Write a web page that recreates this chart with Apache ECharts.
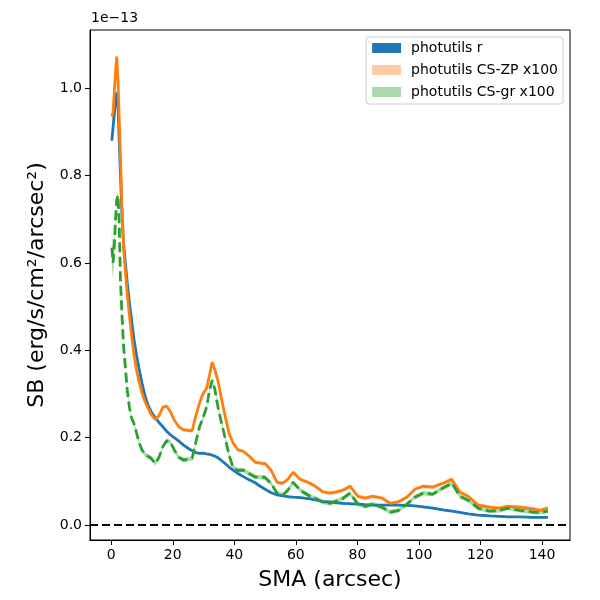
<!DOCTYPE html>
<html>
<head>
<meta charset="utf-8">
<script src="https://cdn.jsdelivr.net/npm/echarts@6/dist/echarts.min.js"></script>
<style>
html, body {margin:0; padding:0; background:#fff;}
#main {width:600px; height:600px;}
</style>
</head>
<body>
<div id="main"></div>
<script>
// SMA of the isophotes (arcsec)
var sma = [
	0.2, 0.6, 1.0, 1.4, 1.8, 2.2, 2.6, 3.0, 3.5, 4.0,
	4.6, 5.2, 5.9, 6.6, 7.4, 8.2, 9.0, 10.0, 11.0, 12.0,
	13.0, 14.3, 15.5, 16.8, 18.0, 19.2, 20.5, 22.0, 23.5, 25.0,
	26.3, 27.5, 28.7, 29.8, 31.0, 32.0, 32.8, 33.7, 34.7, 35.8,
	37.0, 38.3, 39.6, 41.2, 42.9, 44.8, 46.8, 48.4, 50.0, 52.0,
	53.9, 55.8, 57.4, 59.1, 61.4, 64.6, 66.7, 68.8, 71.1, 73.2,
	75.3, 77.6, 80.2, 82.5, 85.0, 88.0, 90.6, 93.2, 96.1, 98.7,
	101.3, 104.5, 107.8, 110.7, 113.3, 116.0, 119.2, 123.0, 126.3, 128.9,
	132.8, 137.0, 139.3, 141.9
];
// surface brightness, units of 1e-13
var sbR = [
	0.88, 0.91, 0.94, 0.97, 0.99, 0.96, 0.88, 0.80, 0.71, 0.645,
	0.60, 0.555, 0.51, 0.47, 0.425, 0.39, 0.36, 0.325, 0.295, 0.274,
	0.259, 0.246, 0.235, 0.225, 0.215, 0.207, 0.200, 0.192, 0.183, 0.176,
	0.170, 0.166, 0.164, 0.165, 0.163, 0.162, 0.160, 0.158, 0.154, 0.148,
	0.141, 0.133, 0.126, 0.118, 0.111, 0.104, 0.097, 0.089, 0.082, 0.074,
	0.069, 0.067, 0.065, 0.064, 0.063, 0.060, 0.057, 0.054, 0.053, 0.051,
	0.050, 0.049, 0.048, 0.047, 0.046, 0.046, 0.046, 0.046, 0.045, 0.044,
	0.042, 0.039, 0.035, 0.032, 0.029, 0.026, 0.023, 0.021, 0.020, 0.019,
	0.019, 0.018, 0.018, 0.018
];
var sbZP = [
	0.935, 0.945, 0.99, 1.04, 1.072, 1.02, 0.93, 0.84, 0.73, 0.635,
	0.58, 0.53, 0.48, 0.435, 0.39, 0.355, 0.33, 0.302, 0.282, 0.267,
	0.253, 0.242, 0.25, 0.27, 0.272, 0.26, 0.24, 0.225, 0.218, 0.217,
	0.216, 0.25, 0.28, 0.30, 0.313, 0.345, 0.373, 0.355, 0.33, 0.29,
	0.25, 0.21, 0.188, 0.172, 0.169, 0.158, 0.144, 0.142, 0.141, 0.125,
	0.098, 0.096, 0.105, 0.121, 0.105, 0.096, 0.087, 0.076, 0.073, 0.076,
	0.080, 0.089, 0.066, 0.062, 0.066, 0.062, 0.050, 0.053, 0.064, 0.082,
	0.089, 0.087, 0.096, 0.105, 0.076, 0.066, 0.046, 0.041, 0.039, 0.043,
	0.041, 0.037, 0.034, 0.039
];
var sbGR = [
	0.635, 0.60, 0.64, 0.70, 0.745, 0.755, 0.69, 0.56, 0.48, 0.41,
	0.36, 0.31, 0.27, 0.245, 0.232, 0.212, 0.19, 0.172, 0.162, 0.157,
	0.153, 0.141, 0.155, 0.18, 0.193, 0.19, 0.172, 0.155, 0.149, 0.151,
	0.153, 0.19, 0.225, 0.245, 0.27, 0.31, 0.332, 0.31, 0.27, 0.235,
	0.20, 0.16, 0.132, 0.125, 0.126, 0.118, 0.110, 0.110, 0.109, 0.095,
	0.073, 0.069, 0.080, 0.098, 0.080, 0.066, 0.060, 0.053, 0.050, 0.055,
	0.061, 0.073, 0.048, 0.043, 0.048, 0.041, 0.030, 0.033, 0.048, 0.064,
	0.073, 0.071, 0.085, 0.096, 0.066, 0.057, 0.039, 0.032, 0.034, 0.039,
	0.034, 0.030, 0.029, 0.032
];
// errors (half width of the bands)
var errR = [
	0.003, 0.003, 0.003, 0.003, 0.003, 0.003, 0.002, 0.002, 0.002, 0.002,
	0.002, 0.002, 0.002, 0.002, 0.002, 0.002, 0.002, 0.002, 0.002, 0.002,
	0.002, 0.002, 0.002, 0.002, 0.002, 0.002, 0.002, 0.002, 0.002, 0.002,
	0.002, 0.002, 0.002, 0.002, 0.002, 0.002, 0.002, 0.002, 0.002, 0.002,
	0.002, 0.002, 0.002, 0.002, 0.002, 0.002, 0.002, 0.002, 0.002, 0.002,
	0.002, 0.002, 0.002, 0.002, 0.002, 0.002, 0.002, 0.002, 0.002, 0.002,
	0.002, 0.002, 0.002, 0.002, 0.002, 0.002, 0.002, 0.002, 0.002, 0.002,
	0.002, 0.002, 0.002, 0.002, 0.002, 0.002, 0.002, 0.002, 0.002, 0.002,
	0.002, 0.002, 0.002, 0.002
];
var errZP = [
	0.03, 0.025, 0.015, 0.01, 0.008, 0.006, 0.005, 0.005, 0.004, 0.004,
	0.004, 0.004, 0.004, 0.004, 0.004, 0.004, 0.004, 0.004, 0.004, 0.004,
	0.004, 0.004, 0.004, 0.004, 0.004, 0.004, 0.004, 0.004, 0.004, 0.004,
	0.004, 0.004, 0.004, 0.004, 0.004, 0.004, 0.004, 0.004, 0.004, 0.004,
	0.004, 0.004, 0.004, 0.004, 0.004, 0.004, 0.004, 0.004, 0.004, 0.004,
	0.004, 0.004, 0.004, 0.004, 0.004, 0.004, 0.004, 0.004, 0.004, 0.004,
	0.004, 0.004, 0.004, 0.004, 0.004, 0.004, 0.004, 0.004, 0.004, 0.004,
	0.004, 0.004, 0.004, 0.004, 0.004, 0.004, 0.004, 0.004, 0.004, 0.004,
	0.004, 0.004, 0.004, 0.004
];
var errGR = [
	0.045, 0.035, 0.02, 0.012, 0.008, 0.007, 0.006, 0.005, 0.005, 0.005,
	0.005, 0.005, 0.005, 0.005, 0.005, 0.005, 0.005, 0.005, 0.005, 0.005,
	0.005, 0.005, 0.005, 0.005, 0.005, 0.005, 0.005, 0.005, 0.005, 0.005,
	0.005, 0.005, 0.005, 0.005, 0.005, 0.005, 0.005, 0.005, 0.005, 0.005,
	0.005, 0.005, 0.005, 0.005, 0.005, 0.005, 0.005, 0.005, 0.005, 0.005,
	0.005, 0.005, 0.005, 0.005, 0.005, 0.005, 0.005, 0.005, 0.005, 0.005,
	0.005, 0.005, 0.005, 0.005, 0.005, 0.005, 0.005, 0.005, 0.005, 0.005,
	0.005, 0.005, 0.005, 0.005, 0.005, 0.005, 0.005, 0.005, 0.005, 0.005,
	0.005, 0.005, 0.005, 0.005
];
var xTicks = [0, 20, 40, 60, 80, 100, 120, 140];
var yTicks = [0, 0.2, 0.4, 0.6, 0.8, 1.0];
var names = ['photutils r', 'photutils CS-ZP x100', 'photutils CS-gr x100'];

var FONT = 'DejaVu Sans';

function pairs(vals){
	var out = [];
	for(var i = 0; i < sma.length; i++){
		out.push([sma[i], vals[i]]);
	}
	return out;
}

//误差带：用一个多边形画出 val±err 的范围
function band(name, vals, err, color){
	var data = [];
	for(var i = 0; i < sma.length; i++){
		data.push([sma[i], vals[i] - err[i], vals[i] + err[i]]);
	}
	return {
		type:'custom',
		name:name,
		silent:true,
		itemStyle:{color:color},
		data:data,
		encode:{x:0, y:[1, 2]},
		renderItem:function(params, api){
			if(params.dataIndex !== 0) return null;
			var pts = [];
			for(var i = 0; i < data.length; i++){
				pts.push(api.coord([data[i][0], data[i][2]]));
			}
			for(var j = data.length - 1; j >= 0; j--){
				pts.push(api.coord([data[j][0], data[j][1]]));
			}
			return {
				type:'polygon',
				shape:{points:pts},
				style:{fill:color, stroke:'none'}
			};
		}
	};
}

var series = [];
series.push(band(names[0], sbR, errR, '#1f77b4'));
series.push({
	type:'line',
	name:'r_line',
	data:pairs(sbR),
	symbol:'none',
	lineStyle:{color:'#1f77b4', width:2.8},
	markLine:{
		silent:true,
		symbol:['none','none'],
		label:{show:false},
		lineStyle:{color:'#000', type:[8,4], width:1.8},
		data:[{yAxis:0}]
	}
});
series.push(band(names[1], sbZP, errZP, 'rgba(255,127,14,0.4)'));
series.push({
	type:'line',
	name:'zp_line',
	data:pairs(sbZP),
	symbol:'none',
	lineStyle:{color:'#ff7f0e', width:2.8}
});
series.push(band(names[2], sbGR, errGR, 'rgba(44,160,44,0.4)'));
series.push({
	type:'line',
	name:'gr_line',
	data:pairs(sbGR),
	symbol:'none',
	lineStyle:{color:'#2ca02c', width:2.8, type:[10,4.5]}
});

var option = {
	backgroundColor:'#fff',
	animation:false,
	textStyle:{fontFamily:FONT},
	grid:{
		left:90, right:30, top:30, bottom:60,
		show:true, borderColor:'#000', borderWidth:1,
		backgroundColor:'transparent'
	},
	legend:{
		orient:'vertical',
		right:37, top:37,
		padding:[4, 5, 5, 6],
		itemWidth:29, itemHeight:10, itemGap:8,
		selectedMode:false,
		backgroundColor:'rgba(255,255,255,0.8)',
		borderColor:'#cccccc', borderWidth:1, borderRadius:3,
		textStyle:{fontFamily:FONT, fontSize:14, color:'#000', padding:[0,0,0,5]},
		data:[
			{name:names[0], icon:'rect', itemStyle:{color:'#1f77b4', borderWidth:0}},
			{name:names[1], icon:'rect', itemStyle:{color:'rgba(255,127,14,0.4)', borderWidth:0}},
			{name:names[2], icon:'rect', itemStyle:{color:'rgba(44,160,44,0.4)', borderWidth:0}}
		]
	},
	graphic:[
		{
			type:'text',
			left:91, top:11,
			style:{text:'1e\u221213', font:'14px "DejaVu Sans"', fill:'#000'}
		}
	],
	xAxis:{
		type:'value',
		min:-6.9, max:149.1,
		name:'SMA (arcsec)',
		nameLocation:'middle',
		nameGap:29,
		nameTextStyle:{fontFamily:FONT, fontSize:22, color:'#000'},
		axisLine:{onZero:false, lineStyle:{color:'#000', width:1}},
		axisTick:{show:true, inside:false, length:5, customValues:xTicks, lineStyle:{color:'#000'}},
		axisLabel:{customValues:xTicks, margin:8, fontFamily:FONT, fontSize:14, color:'#000'},
		splitLine:{show:false}
	},
	yAxis:{
		type:'value',
		min:-0.034, max:1.133,
		name:'SB (erg/s/cm\u00b2/arcsec\u00b2)',
		nameLocation:'middle',
		nameGap:42,
		nameTextStyle:{fontFamily:FONT, fontSize:22, color:'#000'},
		axisLine:{onZero:false, lineStyle:{color:'#000', width:1}},
		axisTick:{show:true, inside:false, length:5, customValues:yTicks, lineStyle:{color:'#000'}},
		axisLabel:{
			customValues:yTicks, margin:8, fontFamily:FONT, fontSize:14, color:'#000',
			formatter:function(v){ return v.toFixed(1); }
		},
		splitLine:{show:false}
	},
	series:series
};

var myChart = echarts.init(document.getElementById('main'));
myChart.setOption(option);
</script>
</body>
</html>
